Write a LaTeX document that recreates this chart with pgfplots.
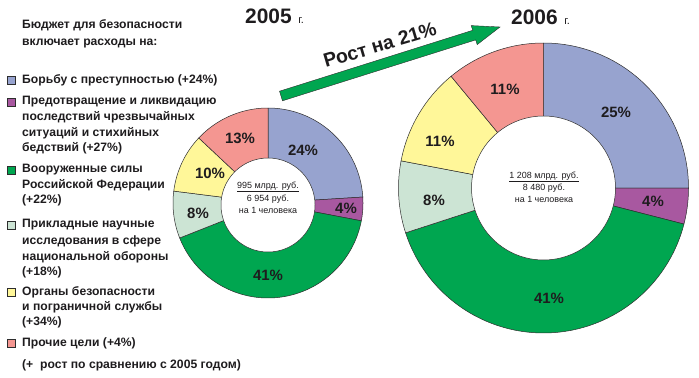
\documentclass[border=0pt]{standalone}
\usepackage{pgfplots}
\pgfplotsset{compat=1.18}
\usepackage{fontspec}
\setmainfont{Liberation Sans}
\definecolor{cblue}{RGB}{151,163,207}
\definecolor{cpurple}{RGB}{168,88,160}
\definecolor{cgreen}{RGB}{0,166,80}
\definecolor{clgreen}{RGB}{204,228,212}
\definecolor{cyellow}{RGB}{255,247,153}
\definecolor{cpink}{RGB}{244,150,145}
\definecolor{edgec}{RGB}{45,45,45}
\definecolor{txt}{RGB}{30,28,30}
% cx cy R cumstart pct colour
\newcommand\pieslice[6]{%
 \pgfmathsetmacro\aS{90-3.6*#4}%
 \pgfmathsetmacro\aE{90-3.6*(#4+#5)}%
 \edef\doit{\noexpand\addplot[fill=#6, draw=edgec, line width=0.5pt, domain=\aE:\aS, samples=90, variable=\noexpand\t] ({#1+#3*cos(\noexpand\t)}, {#2-#3*sin(\noexpand\t)}) -- (axis cs:#1,#2) -- cycle;}%
 \doit}
\newcommand\hole[3]{%
 \addplot[fill=white, draw=edgec, line width=0.5pt, domain=0:360, samples=150, variable=\t] ({#1+#3*cos(\t)}, {#2-#3*sin(\t)}) -- cycle;}
\newcommand\lsq[2]{\filldraw[fill=#1, draw=edgec, line width=0.5pt] (axis cs:7,#2-4) rectangle (axis cs:15,#2+4);}
\begin{document}
\begin{tikzpicture}
\begin{axis}[width=699bp, height=378bp, scale only axis, xmin=0, xmax=699, ymin=0, ymax=378, y dir=reverse, hide axis, clip=false]
% 2005: 24 4 41 8 10 13
\pieslice{268}{203}{95}{0}{24}{cblue}
\pieslice{268}{203}{95}{24}{4}{cpurple}
\pieslice{268}{203}{95}{28}{41}{cgreen}
\pieslice{268}{203}{95}{69}{8}{clgreen}
\pieslice{268}{203}{95}{77}{10}{cyellow}
\pieslice{268}{203}{95}{87}{13}{cpink}
\hole{268}{205}{47}
% 2006: 25 4 41 8 11 11
\pieslice{543.5}{188}{145}{0}{25}{cblue}
\pieslice{543.5}{188}{145}{25}{4}{cpurple}
\pieslice{543.5}{188}{145}{29}{41}{cgreen}
\pieslice{543.5}{188}{145}{70}{8}{clgreen}
\pieslice{543.5}{188}{145}{78}{11}{cyellow}
\pieslice{543.5}{188}{145}{89}{11}{cpink}
\hole{543.5}{188}{72}
% percent labels
\begin{scope}[every node/.style={font=\bfseries\fontsize{15}{16}\selectfont, text=txt, inner sep=0pt}]
\node at (axis cs:303,150) {24\%};
\node at (axis cs:346,208) {4\%};
\node at (axis cs:268,275) {41\%};
\node at (axis cs:198,213) {8\%};
\node at (axis cs:210,173) {10\%};
\node at (axis cs:240,138) {13\%};
\node at (axis cs:616,112) {25\%};
\node at (axis cs:653,201) {4\%};
\node at (axis cs:549,298) {41\%};
\node at (axis cs:434,200) {8\%};
\node at (axis cs:440,141) {11\%};
\node at (axis cs:505,89) {11\%};
\end{scope}
% centre texts
\begin{scope}[every node/.style={font=\fontsize{9}{10}\selectfont, text=txt, inner sep=0pt}]
\node at (axis cs:268,187) {\underline{995 млрд. руб.}};
\node at (axis cs:268,199) {6 954 руб.};
\node at (axis cs:268,210) {на 1 человека};
\node at (axis cs:544,177) {\underline{1 208 млрд. руб.}};
\node at (axis cs:544,188.5) {8 480 руб.};
\node at (axis cs:544,199) {на 1 человека};
\end{scope}
% year titles
\node[anchor=base west, inner sep=0pt, text=txt] at (axis cs:245,24) {\bfseries\fontsize{21}{22}\selectfont 2005\,\fontsize{11}{11}\mdseries\selectfont\ г.};
\node[anchor=base west, inner sep=0pt, text=txt] at (axis cs:511,25) {\bfseries\fontsize{21}{22}\selectfont 2006\,\fontsize{11}{11}\mdseries\selectfont\ г.};
% arrow
\filldraw[fill=cgreen, draw=edgec, line width=0.4pt] (axis cs:279.5,91.2) -- (axis cs:472.7,30.3) -- (axis cs:471.2,25.6) -- (axis cs:500,27) -- (axis cs:477.2,44.6) -- (axis cs:475.7,39.9) -- (axis cs:282.5,100.8) -- cycle;
\node[rotate=16.5, inner sep=0pt, text=txt, font=\bfseries\fontsize{19.5}{20}\selectfont] at (axis cs:380,45) {Рост на 21\%};
% legend
\begin{scope}[every node/.style={anchor=west, inner sep=0pt, text=txt, font=\bfseries\fontsize{12.2}{13}\selectfont}]
\node at (axis cs:22,25) {Бюджет для безопасности};
\node at (axis cs:22,43) {включает расходы на:};
\lsq{cblue}{80}
\node at (axis cs:22,80) {Борьбу с преступностью (+24\%)};
\lsq{cpurple}{102}
\node at (axis cs:22,102) {Предотвращение и ликвидацию};
\node at (axis cs:22,117.5) {последствий чрезвычайных};
\node at (axis cs:22,133) {ситуаций и стихийных};
\node at (axis cs:22,148.5) {бедствий (+27\%)};
\lsq{cgreen}{170}
\node at (axis cs:22,170) {Вооруженные силы};
\node at (axis cs:22,185) {Российской Федерации};
\node at (axis cs:22,200.5) {(+22\%)};
\lsq{clgreen}{225}
\node at (axis cs:22,225) {Прикладные научные};
\node at (axis cs:22,241) {исследования в сфере};
\node at (axis cs:22,257) {национальной обороны};
\node at (axis cs:22,272) {(+18\%)};
\lsq{cyellow}{292}
\node at (axis cs:22,292) {Органы безопасности};
\node at (axis cs:22,307) {и пограничной службы};
\node at (axis cs:22,322.5) {(+34\%)};
\lsq{cpink}{343}
\node at (axis cs:22,343) {Прочие цели (+4\%)};
\node at (axis cs:22,365) {(+\ \ рост по сравнению с 2005 годом)};
\end{scope}
\end{axis}
\pgfresetboundingbox
\path[use as bounding box] (current axis.south west) rectangle (current axis.north east);
\end{tikzpicture}
\end{document}
